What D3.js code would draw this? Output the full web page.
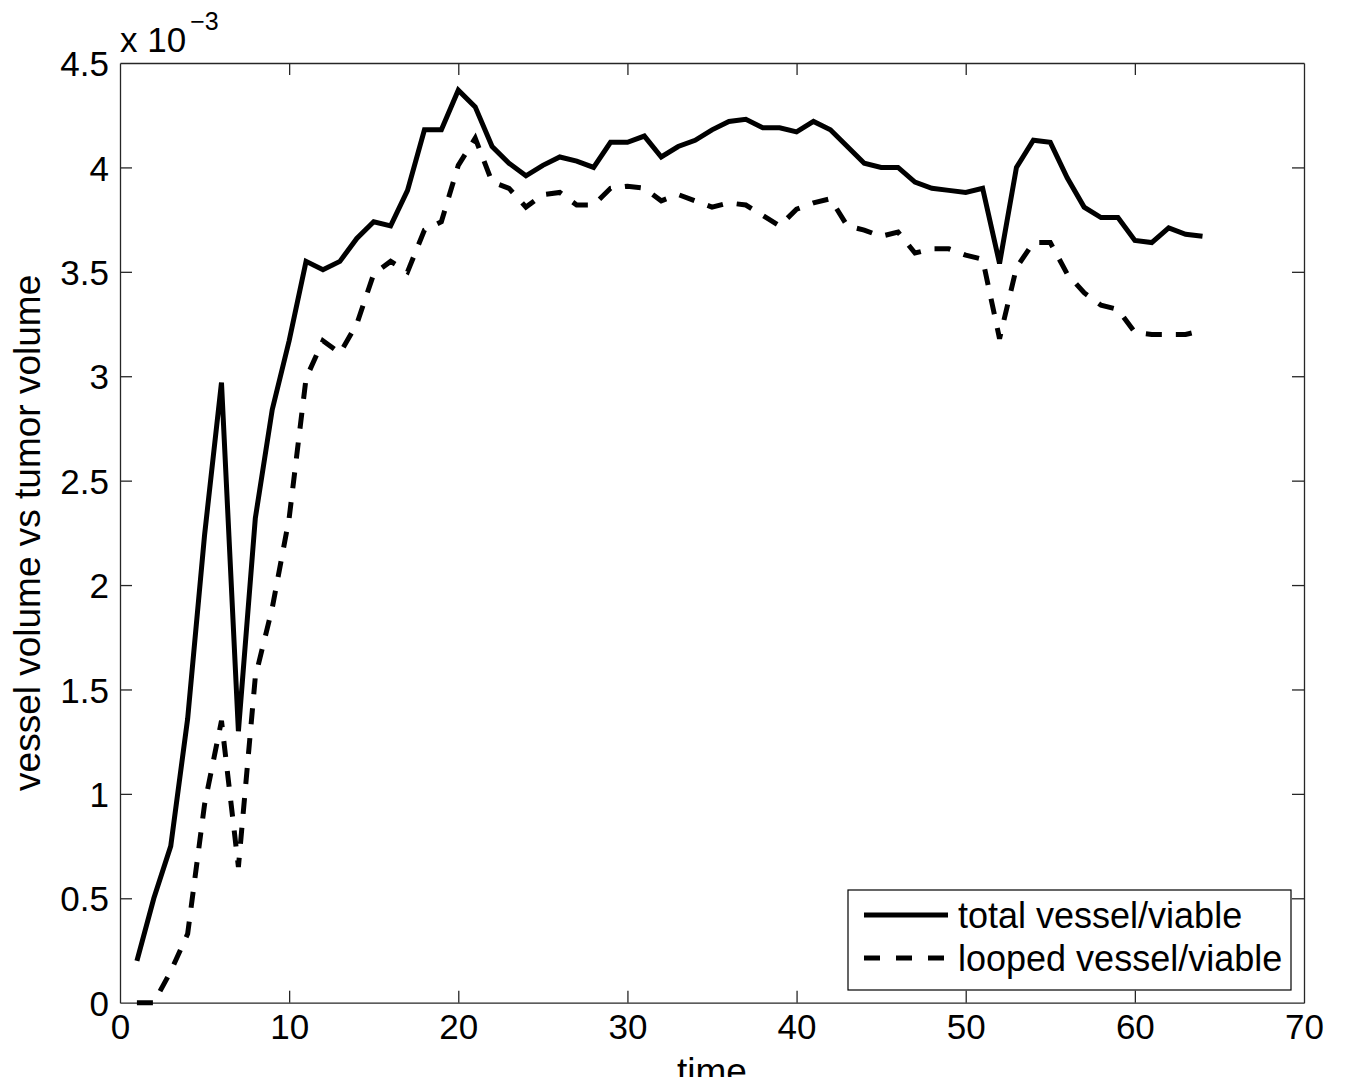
<!DOCTYPE html>
<html>
<head>
<meta charset="utf-8">
<script src="https://cdn.jsdelivr.net/npm/d3@7"></script>
<style>
  body { margin: 0; background: #fff; }
  text { font-family: "Liberation Sans", Arial, sans-serif; fill: #000; }
</style>
</head>
<body>
<div id="chart"></div>
<script>
// time steps 1..64
const timeSteps = d3.range(1, 65);

// values in units of 1e-3
const totalVessel = [
  0.20, 0.50, 0.75, 1.36, 2.24, 2.97, 1.30, 2.32, 2.84, 3.17,
  3.55, 3.51, 3.55, 3.66, 3.74, 3.72, 3.89, 4.18, 4.18, 4.37,
  4.29, 4.10, 4.02, 3.96, 4.01, 4.05, 4.03, 4.00, 4.12, 4.12,
  4.15, 4.05, 4.10, 4.13, 4.18, 4.22, 4.23, 4.19, 4.19, 4.17,
  4.22, 4.18, 4.10, 4.02, 4.00, 4.00, 3.93, 3.90, 3.89, 3.88,
  3.90, 3.54, 4.00, 4.13, 4.12, 3.95, 3.81, 3.76, 3.76, 3.65,
  3.64, 3.71, 3.68, 3.67
];

const loopedVessel = [
  0.00, 0.00, 0.15, 0.33, 0.95, 1.35, 0.65, 1.56, 1.89, 2.32,
  2.99, 3.17, 3.11, 3.25, 3.49, 3.55, 3.50, 3.70, 3.74, 4.01,
  4.14, 3.93, 3.90, 3.81, 3.87, 3.88, 3.82, 3.82, 3.90, 3.91,
  3.90, 3.84, 3.87, 3.84, 3.81, 3.83, 3.82, 3.77, 3.72, 3.80,
  3.83, 3.85, 3.72, 3.70, 3.67, 3.69, 3.59, 3.61, 3.61, 3.58,
  3.56, 3.18, 3.52, 3.64, 3.64, 3.49, 3.40, 3.34, 3.32, 3.21,
  3.20, 3.20, 3.20, 3.22
];

const xTicks = [0, 10, 20, 30, 40, 50, 60, 70];
const yTicks = [0, 0.5, 1, 1.5, 2, 2.5, 3, 3.5, 4, 4.5];
const seriesNames = ["total vessel/viable", "looped vessel/viable"];

const width = 1347, height = 1077;
const margin = { top: 63, right: 43, bottom: 75, left: 120 };

const svg = d3.select("#chart").append("svg")
  .attr("width", width)
  .attr("height", height);

const x = d3.scaleLinear().domain([0, 70]).range([margin.left, width - margin.right]);
const y = d3.scaleLinear().domain([0, 4.5]).range([height - margin.bottom + 0.7, margin.top]);

const x0 = x.range()[0], x1 = x.range()[1];
const y0 = y.range()[0], y1 = y.range()[1];
const tickLen = 12;
const axisColor = "#262626";

// axes (bottom/left labelled, top/right mirrored ticks)
const bottomAxis = svg.append("g")
  .attr("transform", `translate(0,${y0})`)
  .call(d3.axisBottom(x).tickValues(xTicks).tickSizeInner(-tickLen).tickSizeOuter(0).tickPadding(11));
const topAxis = svg.append("g")
  .attr("transform", `translate(0,${y1})`)
  .call(d3.axisTop(x).tickValues(xTicks).tickSizeInner(-tickLen).tickSizeOuter(0).tickFormat(""));
const leftAxis = svg.append("g")
  .attr("transform", `translate(${x0},0)`)
  .call(d3.axisLeft(y).tickValues(yTicks).tickSizeInner(-tickLen).tickSizeOuter(0).tickPadding(11).tickFormat(d3.format("")));
const rightAxis = svg.append("g")
  .attr("transform", `translate(${x1},0)`)
  .call(d3.axisRight(y).tickValues(yTicks).tickSizeInner(-tickLen).tickSizeOuter(0).tickFormat(""));

[bottomAxis, topAxis, leftAxis, rightAxis].forEach(g => {
  g.select(".domain").attr("stroke", axisColor).attr("stroke-width", 1.3);
  g.selectAll(".tick line").attr("stroke", axisColor).attr("stroke-width", 1.3);
  g.selectAll(".tick line").filter(d => d === 0 || d === 70 || d === 4.5).remove();
  g.selectAll("text").attr("font-size", "35px").attr("fill", "#000")
    .style("font-family", "'Liberation Sans', Arial, sans-serif");
});
bottomAxis.selectAll("text").attr("dy", "0.71em");
leftAxis.selectAll("text").attr("dy", "0.36em");

// lines
const line = d3.line()
  .x((d, i) => x(timeSteps[i]))
  .y(d => y(d));

svg.append("path")
  .datum(totalVessel)
  .attr("fill", "none")
  .attr("stroke", "#000")
  .attr("stroke-width", 5)
  .attr("stroke-linejoin", "miter")
  .attr("d", line);

svg.append("path")
  .datum(loopedVessel)
  .attr("fill", "none")
  .attr("stroke", "#000")
  .attr("stroke-width", 5)
  .attr("stroke-dasharray", "16,14")
  .attr("d", line);

// exponent label
const expo = svg.append("text")
  .attr("x", x0)
  .attr("y", 52)
  .attr("font-size", "35px");
expo.append("tspan").text("x 10");
expo.append("tspan").attr("dy", -22).attr("dx", 4).attr("font-size", "25px").text("\u22123");

// axis titles
svg.append("text")
  .attr("x", (x0 + x1) / 2)
  .attr("y", 1084)
  .attr("text-anchor", "middle")
  .attr("font-size", "37px")
  .text("time");

svg.append("text")
  .attr("transform", `translate(40,${(y0 + y1) / 2}) rotate(-90)`)
  .attr("text-anchor", "middle")
  .attr("font-size", "37px")
  .text("vessel volume vs tumor volume");

// legend
const legend = svg.append("g");
legend.append("rect")
  .attr("x", 848).attr("y", 890)
  .attr("width", 443).attr("height", 100)
  .attr("fill", "#fff")
  .attr("stroke", "#000")
  .attr("stroke-width", 1.2);

seriesNames.forEach((name, i) => {
  const ly = 915 + i * 43;
  legend.append("line")
    .attr("x1", 864).attr("x2", 948)
    .attr("y1", ly).attr("y2", ly)
    .attr("stroke", "#000")
    .attr("stroke-width", 5)
    .attr("stroke-dasharray", i === 1 ? "16,16" : null);
  legend.append("text")
    .attr("x", 958)
    .attr("y", ly)
    .attr("dy", "0.35em")
    .attr("font-size", "36px")
    .text(name);
});
</script>
</body>
</html>
